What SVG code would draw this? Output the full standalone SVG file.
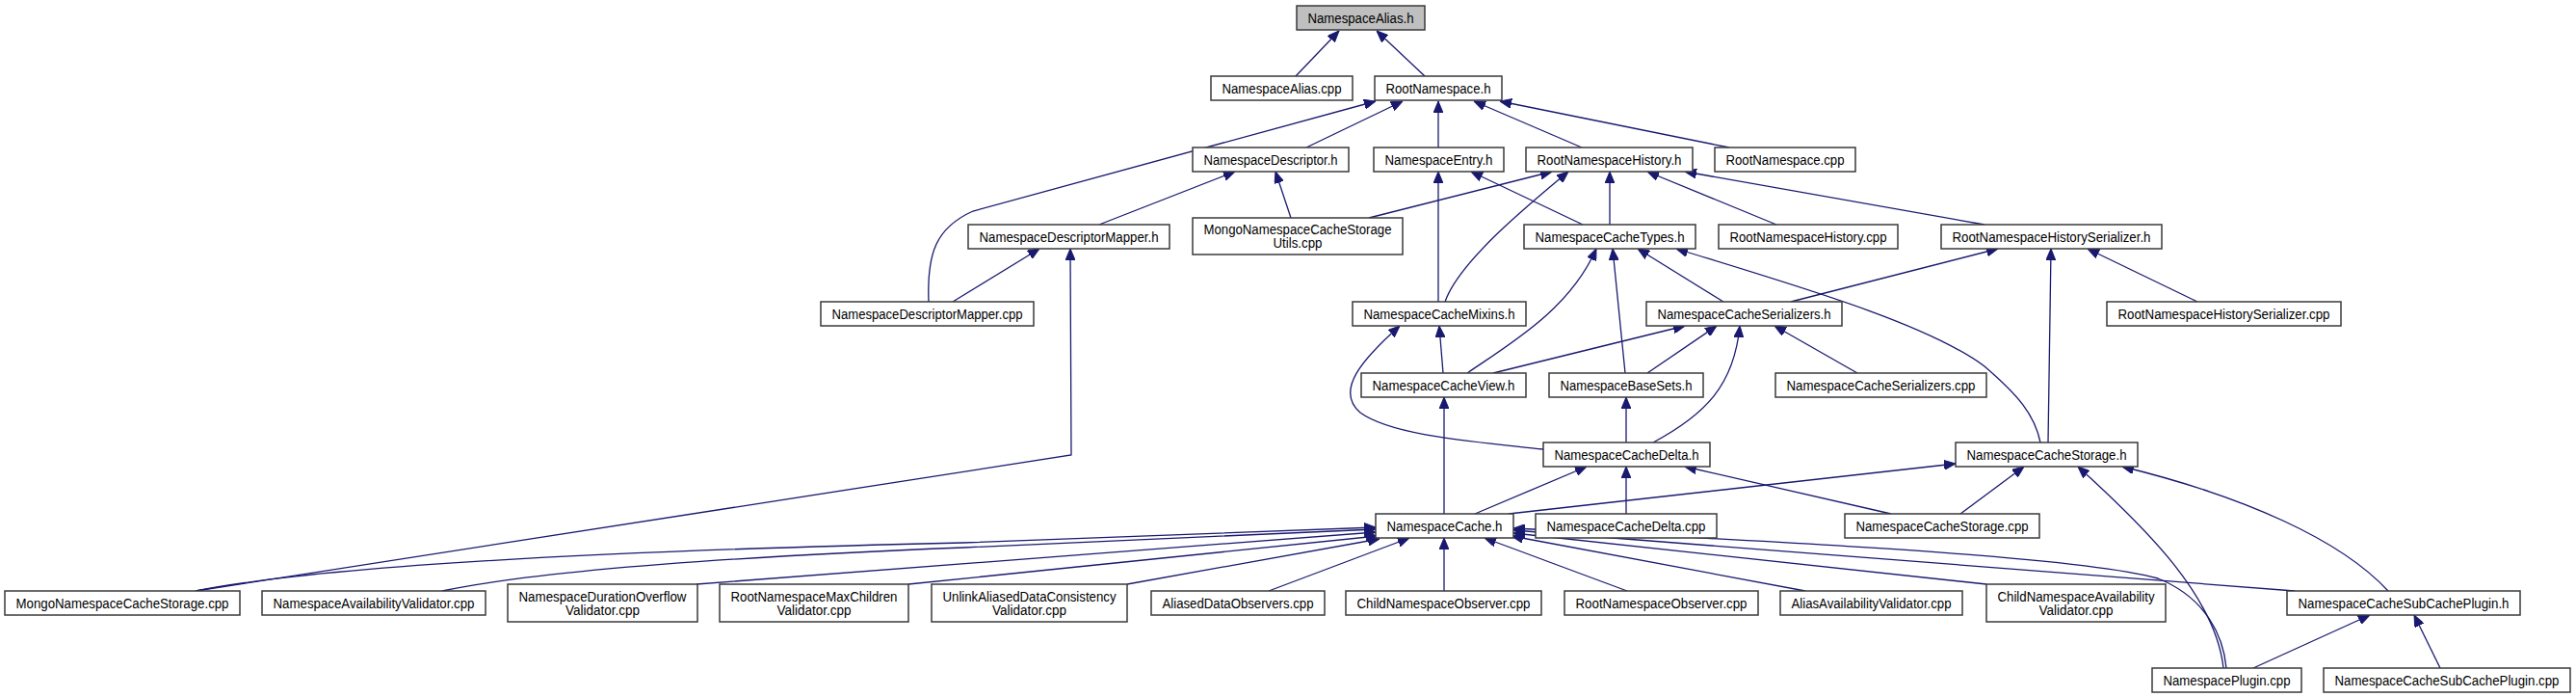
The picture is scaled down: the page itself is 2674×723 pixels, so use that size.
<svg xmlns="http://www.w3.org/2000/svg" width="2674" height="723" viewBox="0 0 2674 723">
<style>
.node rect{fill:#ffffff;stroke:#3a3a3a;stroke-width:1.5}
.root rect{fill:#bfbfbf}
text{font-family:"Liberation Sans",Arial,Helvetica,sans-serif;font-size:14px;fill:#000;text-anchor:middle}
.edges path{fill:none;stroke:#191970;stroke-width:1.3;marker-end:url(#arr)}
</style>
<defs>
<marker id="arr" viewBox="0 0 12 10" refX="12" refY="5" markerWidth="12" markerHeight="10" markerUnits="userSpaceOnUse" orient="auto">
<path d="M0,0 L12,5 L0,10 z" fill="#191970" stroke="#191970" stroke-width="1"/>
</marker>
</defs>
<rect x="0" y="0" width="2674" height="723" fill="#ffffff"/>
<g class="edges" id="connectors">
<path d="M1345,79 L1390,32"/>
<path d="M1479,79 L1429,32"/>
<path d="M964,313 C962,262 972,236 1010,219 L1428,105"/>
<path d="M1356,153 L1456,105"/>
<path d="M1493,153 L1493,105"/>
<path d="M1642,153 L1530,105"/>
<path d="M1795,153 L1557,105"/>
<path d="M1141,233 L1282,178"/>
<path d="M1340,226 L1324,178"/>
<path d="M1493,313 L1493,178"/>
<path d="M1643,233 L1527,178"/>
<path d="M1421,226 L1611,178"/>
<path d="M1500,313 C1515,270 1590,210 1628,178"/>
<path d="M1671,233 L1671,178"/>
<path d="M1844,233 L1710,178"/>
<path d="M2060,233 L1749,178"/>
<path d="M989,313 L1079,258"/>
<path d="M203,613 L1112,472 L1111,258"/>
<path d="M1523,387 C1570,355 1630,320 1657,258"/>
<path d="M1687,387 L1674,258"/>
<path d="M1789,313 L1700,258"/>
<path d="M2118,459 C2112,430 2095,410 2060,380 C2000,335 1860,295 1740,258"/>
<path d="M1859,313 L2074,258"/>
<path d="M2281,313 L2167,258"/>
<path d="M2126,459 L2129,258"/>
<path d="M1498,387 L1494,338"/>
<path d="M1602,466 C1530,458 1445,452 1412,428 C1385,405 1415,372 1453,338"/>
<path d="M1550,387 L1749,338"/>
<path d="M1710,387 L1782,338"/>
<path d="M1716,459 C1770,430 1800,400 1806,338"/>
<path d="M1928,387 L1842,338"/>
<path d="M1499,533 L1499,412"/>
<path d="M1688,459 L1688,412"/>
<path d="M1531,533 L1647,484"/>
<path d="M1688,533 L1688,484"/>
<path d="M1963,533 L1749,484"/>
<path d="M1566,533 L2030,481"/>
<path d="M2035,533 L2101,484"/>
<path d="M2308,693 C2300,620 2230,550 2157,484"/>
<path d="M2479,613 C2430,560 2330,515 2203,484"/>
<path d="M203,613 C330,588 600,572 1000,563 L1428,547"/>
<path d="M459,613 C560,592 750,578 1000,568 L1428,549"/>
<path d="M723,606 L1428,552"/>
<path d="M943,606 L1430,556"/>
<path d="M1170,606 L1432,559"/>
<path d="M1317,613 L1463,558"/>
<path d="M1499,613 L1499,558"/>
<path d="M1689,613 L1541,558"/>
<path d="M1874,613 L1569,556"/>
<path d="M2062,606 L1571,553"/>
<path d="M2382,613 L1571,550"/>
<path d="M2311,693 C2308,660 2290,620 2240,600 C2150,575 1800,560 1571,548"/>
<path d="M2339,693 L2460,638"/>
<path d="M2533,693 L2506,638"/>
</g>
<g id="n0" class="node root"><rect x="1346" y="6" width="133" height="25"/><text x="1412.5" y="23.5" textLength="110" lengthAdjust="spacingAndGlyphs">NamespaceAlias.h</text></g>
<g id="n1" class="node"><rect x="1257" y="79" width="147" height="25"/><text x="1330.5" y="96.5" textLength="124" lengthAdjust="spacingAndGlyphs">NamespaceAlias.cpp</text></g>
<g id="n2" class="node"><rect x="1427" y="79" width="132" height="25"/><text x="1493" y="96.5" textLength="109" lengthAdjust="spacingAndGlyphs">RootNamespace.h</text></g>
<g id="n3" class="node"><rect x="1238" y="153" width="162" height="25"/><text x="1319" y="170.5" textLength="139" lengthAdjust="spacingAndGlyphs">NamespaceDescriptor.h</text></g>
<g id="n4" class="node"><rect x="1426" y="153" width="135" height="25"/><text x="1493.5" y="170.5" textLength="112" lengthAdjust="spacingAndGlyphs">NamespaceEntry.h</text></g>
<g id="n5" class="node"><rect x="1584" y="153" width="173" height="25"/><text x="1670.5" y="170.5" textLength="150" lengthAdjust="spacingAndGlyphs">RootNamespaceHistory.h</text></g>
<g id="n6" class="node"><rect x="1780" y="153" width="146" height="25"/><text x="1853" y="170.5" textLength="123" lengthAdjust="spacingAndGlyphs">RootNamespace.cpp</text></g>
<g id="n7" class="node"><rect x="1005" y="233" width="209" height="25"/><text x="1109.5" y="250.5" textLength="186" lengthAdjust="spacingAndGlyphs">NamespaceDescriptorMapper.h</text></g>
<g id="n8" class="node"><rect x="1238" y="226" width="218" height="38"/><text x="1347" y="243" textLength="195" lengthAdjust="spacingAndGlyphs">MongoNamespaceCacheStorage</text><text x="1347" y="257" textLength="51" lengthAdjust="spacingAndGlyphs">Utils.cpp</text></g>
<g id="n9" class="node"><rect x="1582" y="233" width="178" height="25"/><text x="1671" y="250.5" textLength="155" lengthAdjust="spacingAndGlyphs">NamespaceCacheTypes.h</text></g>
<g id="n10" class="node"><rect x="1784" y="233" width="186" height="25"/><text x="1877" y="250.5" textLength="163" lengthAdjust="spacingAndGlyphs">RootNamespaceHistory.cpp</text></g>
<g id="n11" class="node"><rect x="2015" y="233" width="229" height="25"/><text x="2129.5" y="250.5" textLength="206" lengthAdjust="spacingAndGlyphs">RootNamespaceHistorySerializer.h</text></g>
<g id="n12" class="node"><rect x="852" y="313" width="221" height="25"/><text x="962.5" y="330.5" textLength="198" lengthAdjust="spacingAndGlyphs">NamespaceDescriptorMapper.cpp</text></g>
<g id="n13" class="node"><rect x="1404" y="313" width="180" height="25"/><text x="1494" y="330.5" textLength="157" lengthAdjust="spacingAndGlyphs">NamespaceCacheMixins.h</text></g>
<g id="n14" class="node"><rect x="1709" y="313" width="203" height="25"/><text x="1810.5" y="330.5" textLength="180" lengthAdjust="spacingAndGlyphs">NamespaceCacheSerializers.h</text></g>
<g id="n15" class="node"><rect x="2187" y="313" width="243" height="25"/><text x="2308.5" y="330.5" textLength="220" lengthAdjust="spacingAndGlyphs">RootNamespaceHistorySerializer.cpp</text></g>
<g id="n16" class="node"><rect x="1413" y="387" width="171" height="25"/><text x="1498.5" y="404.5" textLength="148" lengthAdjust="spacingAndGlyphs">NamespaceCacheView.h</text></g>
<g id="n17" class="node"><rect x="1608" y="387" width="160" height="25"/><text x="1688" y="404.5" textLength="137" lengthAdjust="spacingAndGlyphs">NamespaceBaseSets.h</text></g>
<g id="n18" class="node"><rect x="1843" y="387" width="219" height="25"/><text x="1952.5" y="404.5" textLength="196" lengthAdjust="spacingAndGlyphs">NamespaceCacheSerializers.cpp</text></g>
<g id="n19" class="node"><rect x="1602" y="459" width="173" height="25"/><text x="1688.5" y="476.5" textLength="150" lengthAdjust="spacingAndGlyphs">NamespaceCacheDelta.h</text></g>
<g id="n20" class="node"><rect x="2030" y="459" width="189" height="25"/><text x="2124.5" y="476.5" textLength="166" lengthAdjust="spacingAndGlyphs">NamespaceCacheStorage.h</text></g>
<g id="n21" class="node"><rect x="1428" y="533" width="143" height="25"/><text x="1499.5" y="550.5" textLength="120" lengthAdjust="spacingAndGlyphs">NamespaceCache.h</text></g>
<g id="n22" class="node"><rect x="1594" y="533" width="188" height="25"/><text x="1688" y="550.5" textLength="165" lengthAdjust="spacingAndGlyphs">NamespaceCacheDelta.cpp</text></g>
<g id="n23" class="node"><rect x="1915" y="533" width="202" height="25"/><text x="2016" y="550.5" textLength="179" lengthAdjust="spacingAndGlyphs">NamespaceCacheStorage.cpp</text></g>
<g id="n24" class="node"><rect x="5" y="613" width="244" height="25"/><text x="127" y="630.5" textLength="221" lengthAdjust="spacingAndGlyphs">MongoNamespaceCacheStorage.cpp</text></g>
<g id="n25" class="node"><rect x="272" y="613" width="232" height="25"/><text x="388" y="630.5" textLength="209" lengthAdjust="spacingAndGlyphs">NamespaceAvailabilityValidator.cpp</text></g>
<g id="n26" class="node"><rect x="527" y="606" width="197" height="39"/><text x="625.5" y="624" textLength="174" lengthAdjust="spacingAndGlyphs">NamespaceDurationOverflow</text><text x="625.5" y="637.5" textLength="77" lengthAdjust="spacingAndGlyphs">Validator.cpp</text></g>
<g id="n27" class="node"><rect x="747" y="606" width="196" height="39"/><text x="845" y="624" textLength="173" lengthAdjust="spacingAndGlyphs">RootNamespaceMaxChildren</text><text x="845" y="637.5" textLength="77" lengthAdjust="spacingAndGlyphs">Validator.cpp</text></g>
<g id="n28" class="node"><rect x="967" y="606" width="203" height="39"/><text x="1068.5" y="624" textLength="180" lengthAdjust="spacingAndGlyphs">UnlinkAliasedDataConsistency</text><text x="1068.5" y="637.5" textLength="77" lengthAdjust="spacingAndGlyphs">Validator.cpp</text></g>
<g id="n29" class="node"><rect x="1195" y="613" width="180" height="25"/><text x="1285" y="630.5" textLength="157" lengthAdjust="spacingAndGlyphs">AliasedDataObservers.cpp</text></g>
<g id="n30" class="node"><rect x="1397" y="613" width="203" height="25"/><text x="1498.5" y="630.5" textLength="180" lengthAdjust="spacingAndGlyphs">ChildNamespaceObserver.cpp</text></g>
<g id="n31" class="node"><rect x="1624" y="613" width="201" height="25"/><text x="1724.5" y="630.5" textLength="178" lengthAdjust="spacingAndGlyphs">RootNamespaceObserver.cpp</text></g>
<g id="n32" class="node"><rect x="1848" y="613" width="189" height="25"/><text x="1942.5" y="630.5" textLength="166" lengthAdjust="spacingAndGlyphs">AliasAvailabilityValidator.cpp</text></g>
<g id="n33" class="node"><rect x="2062" y="606" width="186" height="39"/><text x="2155" y="624" textLength="163" lengthAdjust="spacingAndGlyphs">ChildNamespaceAvailability</text><text x="2155" y="637.5" textLength="77" lengthAdjust="spacingAndGlyphs">Validator.cpp</text></g>
<g id="n34" class="node"><rect x="2374" y="613" width="242" height="25"/><text x="2495" y="630.5" textLength="219" lengthAdjust="spacingAndGlyphs">NamespaceCacheSubCachePlugin.h</text></g>
<g id="n35" class="node"><rect x="2234" y="693" width="155" height="25"/><text x="2311.5" y="710.5" textLength="132" lengthAdjust="spacingAndGlyphs">NamespacePlugin.cpp</text></g>
<g id="n36" class="node"><rect x="2412" y="693" width="256" height="25"/><text x="2540" y="710.5" textLength="233" lengthAdjust="spacingAndGlyphs">NamespaceCacheSubCachePlugin.cpp</text></g>
</svg>
